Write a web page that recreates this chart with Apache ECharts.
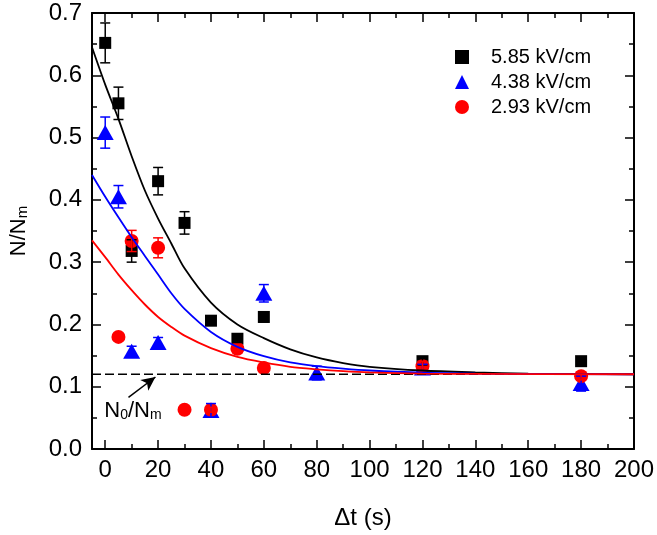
<!DOCTYPE html>
<html><head><meta charset="utf-8">
<script src="https://cdn.jsdelivr.net/npm/echarts@6/dist/echarts.min.js"></script>
<style>html,body{margin:0;padding:0;background:#fff}#c{width:657px;height:535px}</style>
</head><body><div id="c"></div>
<script>
// ---- tick labels / categories ----
const xMajorTicks = [0,20,40,60,80,100,120,140,160,180,200];
const xMinorTicks = [10,30,50,70,90,110,130,150,170,190];
const legendNames = ['5.85 kV/cm','4.38 kV/cm','2.93 kV/cm'];

// ---- measured data ----
const blackX   = [0,5,10,20,30,40,50,60,120,180];
const blackY   = [0.652,0.555,0.318,0.430,0.363,0.206,0.177,0.212,0.141,0.141];
const blackErr = [0.032,0.026,0.018,0.022,0.018,0.007,0.006,0.008,0.006,0.004];

const blueX   = [0,5,10,20,40,60,80,120,180];
const blueY   = [0.508,0.405,0.157,0.171,0.062,0.250,0.122,0.130,0.105];
const blueErr = [0.025,0.018,0.008,0.008,0.011,0.014,0.011,0.006,0.012];

const redX   = [5,10,20,30,40,50,60,120,180];
const redY   = [0.180,0.334,0.323,0.063,0.063,0.161,0.130,0.133,0.117];
const redErr = [0.004,0.017,0.016,0.003,0.004,0.006,0.004,0.008,0.006];

// ---- fitted curves ----
const fitBlackX = [-5,0,5,10,15,20,25,30,40,50,60,70,80,90,100,120,140,160,180,200];
const fitBlackY = [0.645,0.585,0.53,0.47,0.415,0.37,0.33,0.29,0.235,0.20,0.178,0.16,0.147,0.138,0.132,0.126,0.123,0.121,0.1205,0.120];
const fitBlueX  = [-5,0,5,10,15,20,25,30,40,50,60,70,80,90,100,120,140,160,200];
const fitBlueY  = [0.44,0.405,0.372,0.34,0.31,0.28,0.25,0.225,0.188,0.164,0.149,0.139,0.133,0.129,0.126,0.1225,0.121,0.1205,0.120];
const fitRedX   = [-5,0,5,10,15,20,25,30,40,50,60,70,80,90,100,120,140,200];
const fitRedY   = [0.335,0.308,0.28,0.255,0.232,0.212,0.196,0.182,0.162,0.148,0.139,0.132,0.128,0.125,0.123,0.121,0.1205,0.120];

// ---- baseline N0/Nm ----
const baseX = [-5,200];
const baseY = [0.12,0.12];

// ---- annotation ----
const annotPos = [10.5,0.0626];
const arrowFrom = [8.8,0.083];
const arrowTo = [19,0.1156];

const FONT = '"Liberation Sans", Arial, sans-serif';
const zip = (xs, ys) => xs.map((x,i)=>[x, ys[i]]);
const zip3 = (xs, ys, es) => xs.map((x,i)=>[x, ys[i], es[i]]);

function errRender(color){
  return function(params, api){
    const x = api.value(0), y = api.value(1), e = api.value(2);
    const top = api.coord([x, y + e]);
    const bot = api.coord([x, y - e]);
    const hw = 5;
    const st = {stroke: color, lineWidth: 1.5};
    return {type:'group', children:[
      {type:'line', shape:{x1:top[0], y1:top[1], x2:bot[0], y2:bot[1]}, style:st},
      {type:'line', shape:{x1:top[0]-hw, y1:top[1], x2:top[0]+hw, y2:top[1]}, style:st},
      {type:'line', shape:{x1:bot[0]-hw, y1:bot[1], x2:bot[0]+hw, y2:bot[1]}, style:st}
    ]};
  };
}

const axLine = {show:true, onZero:false, lineStyle:{color:'#000', width:2}};
const baseX0 = {type:'value', min:-5, max:200, splitLine:{show:false}};

const chart = echarts.init(document.getElementById('c'), null, {renderer:'canvas'});
chart.setOption({
  animation:false,
  backgroundColor:'#fff',
  grid:{left:91, top:13, width:544, height:436, containLabel:false},
  legend:{
    data:legendNames, orient:'vertical', left:450, top:42,
    itemWidth:14, itemHeight:14, itemGap:5,
    textStyle:{fontFamily:FONT, fontSize:20, color:'#000', lineHeight:20, padding:[0,0,0,17]}
  },
  xAxis:[
    Object.assign({}, baseX0, {position:'bottom', axisLine:axLine,
      axisTick:{show:true, inside:true, length:9, lineStyle:{color:'#000', width:1.5}, customValues:xMajorTicks},
      axisLabel:{show:true, customValues:xMajorTicks, fontFamily:FONT, fontSize:24, color:'#000', margin:9},
      name:'Δt (s)', nameLocation:'middle', nameGap:57,
      nameTextStyle:{fontFamily:FONT, fontSize:24, color:'#000'}}),
    Object.assign({}, baseX0, {position:'bottom', axisLine:{show:false, onZero:false},
      axisTick:{show:true, inside:true, length:5, lineStyle:{color:'#000', width:1.5}, customValues:xMinorTicks},
      axisLabel:{show:false}}),
    Object.assign({}, baseX0, {position:'top', axisLine:axLine,
      axisTick:{show:true, inside:true, length:9, lineStyle:{color:'#000', width:1.5}, customValues:xMajorTicks},
      axisLabel:{show:false}}),
    Object.assign({}, baseX0, {position:'top', axisLine:{show:false, onZero:false},
      axisTick:{show:true, inside:true, length:5, lineStyle:{color:'#000', width:1.5}, customValues:xMinorTicks},
      axisLabel:{show:false}})
  ],
  yAxis:[
    {type:'value', position:'left', min:0, max:0.7, interval:0.1, splitLine:{show:false},
     axisLine:axLine,
     axisTick:{show:true, inside:true, length:9, lineStyle:{color:'#000', width:1.5}},
     minorTick:{show:true, splitNumber:2, length:5, lineStyle:{color:'#000', width:1.5}},
     axisLabel:{fontFamily:FONT, fontSize:24, color:'#000', margin:10, formatter:v=>v.toFixed(1)},
     name:'{n|N/N}{s|m}', nameLocation:'middle', nameGap:62, nameRotate:90,
     nameTextStyle:{rich:{
       n:{fontFamily:FONT, fontSize:22, color:'#000', lineHeight:26, verticalAlign:'bottom'},
       s:{fontFamily:FONT, fontSize:15, color:'#000', lineHeight:8, verticalAlign:'bottom'}}}},
    {type:'value', position:'right', min:0, max:0.7, interval:0.1, splitLine:{show:false},
     axisLine:axLine,
     axisTick:{show:true, inside:true, length:9, lineStyle:{color:'#000', width:1.5}},
     minorTick:{show:true, splitNumber:2, length:5, lineStyle:{color:'#000', width:1.5}},
     axisLabel:{show:false}}
  ],
  series:[
    {type:'line', name:'baseline', data:zip(baseX, baseY), showSymbol:false, symbol:'none',
     lineStyle:{color:'#000', width:1.5, type:[9,4]}, silent:true,
     markLine:{silent:true, symbol:['none','arrow'], symbolSize:[10,14], label:{show:false},
       lineStyle:{color:'#000', width:1.5, type:'solid'},
       data:[[{coord:arrowFrom},{coord:arrowTo}]]}},
    {type:'line', name:'fitBlack', data:zip(fitBlackX, fitBlackY), smooth:0.3, showSymbol:false, symbol:'none',
     lineStyle:{color:'#000', width:1.8}},
    {type:'line', name:'fitBlue', data:zip(fitBlueX, fitBlueY), smooth:0.3, showSymbol:false, symbol:'none',
     lineStyle:{color:'#0000ff', width:1.8}},
    {type:'line', name:'fitRed', data:zip(fitRedX, fitRedY), smooth:0.3, showSymbol:false, symbol:'none',
     lineStyle:{color:'#ff0000', width:1.8}},
    {type:'scatter', name:legendNames[0], data:zip(blackX, blackY), symbol:'rect', symbolSize:12,
     itemStyle:{color:'#000', opacity:1}},
    {type:'scatter', name:legendNames[1], data:zip(blueX, blueY), symbol:'triangle', symbolSize:[17,15],
     itemStyle:{color:'#0000ff', opacity:1}},
    {type:'scatter', name:legendNames[2], data:zip(redX, redY), symbol:'circle', symbolSize:14,
     itemStyle:{color:'#ff0000', opacity:1}},
    {type:'custom', name:'errBlack', data:zip3(blackX, blackY, blackErr), renderItem:errRender('#000'), z:3},
    {type:'custom', name:'errBlue', data:zip3(blueX, blueY, blueErr), renderItem:errRender('#0000ff'), z:3},
    {type:'custom', name:'errRed', data:zip3(redX, redY, redErr), renderItem:errRender('#ff0000'), z:3},
    {type:'scatter', name:'annot', data:[annotPos], symbol:'circle', symbolSize:0,
     itemStyle:{color:'#000', opacity:1}, silent:true, z:4,
     label:{show:true, position:'inside', color:'#000', textBorderWidth:0, opacity:1,
       formatter:'{n|N}{s|0}{n|/N}{s|m}',
       rich:{
         n:{fontFamily:FONT, fontSize:22, color:'#000', textBorderWidth:0, lineHeight:24, verticalAlign:'bottom'},
         s:{fontFamily:FONT, fontSize:14, color:'#000', textBorderWidth:0, lineHeight:9, verticalAlign:'bottom'}}}}
  ]
});
</script>
</body></html>
